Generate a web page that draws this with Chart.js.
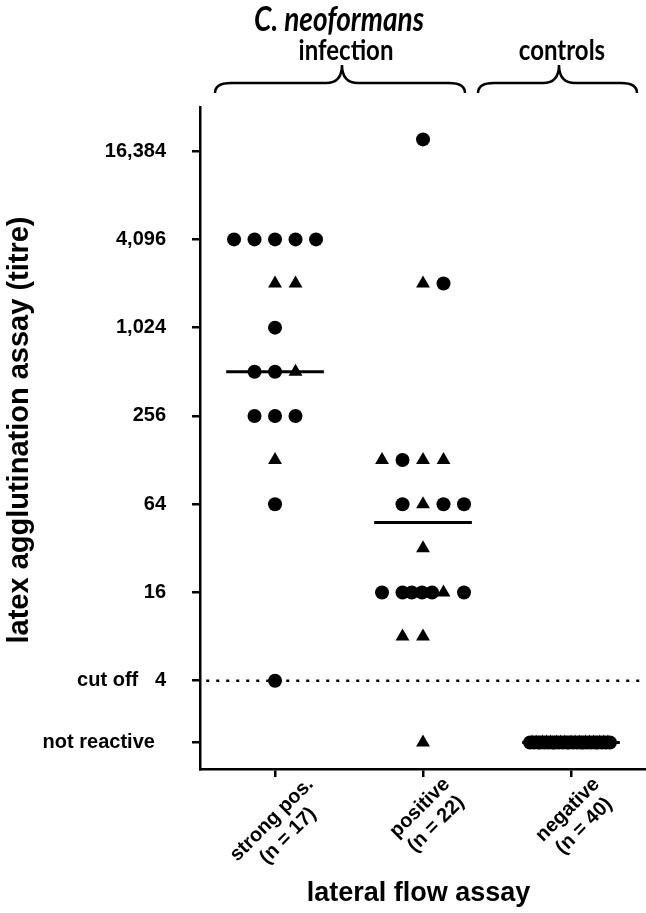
<!DOCTYPE html>
<html>
<head>
<meta charset="utf-8">
<script src="https://cdn.jsdelivr.net/npm/chart.js@4"></script>
<style>
  body { margin: 0; background: #fff; }
  canvas { display: block; }
</style>
</head>
<body>
<canvas id="stats_chart" width="646" height="913"></canvas>
<script>

// categories (x axis)
const categories = [["strong pos.", "(n = 17)"], ["positive", "(n = 22)"], ["negative", "(n = 40)"]];

// titres, 0 = not reactive
const strongTitres = [4096, 4096, 4096, 4096, 4096, 2048, 2048, 1024, 512, 512, 512, 256, 256, 256, 128, 64, 4];
const strongShapes = ["c", "c", "c", "c", "c", "t", "t", "c", "c", "c", "t", "c", "c", "c", "t", "c", "c"];
const strongSlots = [-2, -1, 0, 1, 2, 0, 1, 0, -1, 0, 1, -1, 0, 1, 0, 0, 0];

const positiveTitres = [19700, 2048, 2048, 128, 128, 128, 128, 64, 64, 64, 64, 32, 16, 16, 16, 16, 16, 16, 16, 8, 8, 0];
const positiveShapes = ["c", "t", "c", "t", "c", "t", "t", "c", "t", "c", "c", "t", "c", "c", "c", "c", "c", "t", "c", "t", "t", "t"];
const positiveSlots = [0, 0, 1, -2, -1, 0, 1, -1, 0, 1, 2, 0, -2, -1, -0.55, -0.05, 0.44, 1, 2, -1, 0, 0];

const negativeTitres = [0, 0, 0, 0, 0, 0, 0, 0, 0, 0, 0, 0, 0, 0, 0, 0, 0, 0, 0, 0,
                        0, 0, 0, 0, 0, 0, 0, 0, 0, 0, 0, 0, 0, 0, 0, 0, 0, 0, 0, 0];
const negativeShapes = ["c", "t", "c", "t", "c", "c", "t", "c", "t", "c", "t", "c", "c", "t", "c", "t", "c", "t", "c", "c",
                        "t", "c", "t", "c", "t", "c", "c", "t", "c", "t", "c", "t", "c", "c", "t", "c", "t", "c", "t", "c"];
const negativeSlots = [-2.0, -1.9, -1.8, -1.7, -1.6, -1.5, -1.4, -1.3, -1.2, -1.1, -1.0, -0.9, -0.8, -0.7, -0.6, -0.5, -0.4, -0.3, -0.2, -0.1,
                       0, 0.1, 0.2, 0.3, 0.4, 0.5, 0.6, 0.7, 0.8, 0.9, 1.0, 1.1, 1.2, 1.3, 1.4, 1.5, 1.6, 1.7, 1.8, 1.9];

const medianTitres = [512, 48, 0];
const cutOffTitre = 4;

// y axis ticks
const yTickTitres = [0, 4, 16, 64, 256, 1024, 4096, 16384];
const yTickLabels = ["not reactive  ", "cut off   4", "16", "64", "256", "1,024", "4,096", "16,384"];

const NOT_REACTIVE_POS = 0.6;   // where "not reactive" sits on the log2 axis
const SLOT = 0.1385;            // width of one dot column in x units

function ypos(titre){
    return titre > 0 ? Math.log2(titre) : NOT_REACTIVE_POS;
}

function buildPoints(titres, slots, group){
    return titres.map((t, i) => ({x: group + slots[i] * SLOT, y: ypos(t)}));
}

function styles(shapes){
    return shapes.map(s => s === "t" ? "triangle" : "circle");
}

function radii(shapes){
    return shapes.map(s => s === "t" ? 8 : 7);
}

function pointDataset(titres, shapes, slots, group){
    return {
        type: "scatter",
        data: buildPoints(titres, slots, group),
        pointStyle: styles(shapes),
        pointRadius: radii(shapes),
        pointBackgroundColor: "#000",
        pointBorderWidth: 0,
        showLine: false
    };
}

let medianData = [];
medianTitres.forEach((t, i) => {
    medianData.push({x: i - 0.33, y: ypos(t)});
    medianData.push({x: i + 0.33, y: ypos(t)});
    medianData.push({x: i + 0.34, y: null});
});

const FONT = '"Liberation Sans", Arial, sans-serif';

function drawBrace(ctx, x0, x1, xm, yEnd, yH, yPeak, r){
    ctx.beginPath();
    ctx.moveTo(x0, yEnd);
    ctx.quadraticCurveTo(x0, yH, x0 + r, yH);
    ctx.lineTo(xm - r, yH);
    ctx.quadraticCurveTo(xm, yH, xm, yPeak);
    ctx.quadraticCurveTo(xm, yH, xm + r, yH);
    ctx.lineTo(x1 - r, yH);
    ctx.quadraticCurveTo(x1, yH, x1, yEnd);
    ctx.stroke();
}

function tallText(ctx, text, x, y){
    ctx.save();
    ctx.translate(x, y);
    ctx.scale(1, 1.2);
    ctx.fillText(text, 0, 0);
    ctx.restore();
}

const annotations = {
    id: "annotations",
    beforeDraw(chart){
        const ctx = chart.ctx;
        ctx.save();
        ctx.fillStyle = "#fff";
        ctx.fillRect(0, 0, chart.width, chart.height);
        ctx.restore();
    },
    afterDraw(chart){
        const ctx = chart.ctx;
        const xs = chart.scales.x;
        const ys = chart.scales.y;

        ctx.save();
        ctx.fillStyle = "#000";
        ctx.strokeStyle = "#000";

        // rotated category labels
        ctx.font = "bold 20px " + FONT;
        ctx.textAlign = "center";
        ctx.textBaseline = "middle";
        const lh = 23;
        categories.forEach((lines, i) => {
            const w = Math.max(...lines.map(l => ctx.measureText(l).width));
            const boxH = (w + lines.length * lh) * Math.SQRT1_2;
            const cx = xs.getPixelForValue(i) + 5;
            const cy = xs.top + 4 + boxH / 2;
            ctx.save();
            ctx.translate(cx, cy);
            ctx.rotate(-Math.PI / 4);
            lines.forEach((l, j) => ctx.fillText(l, 0, (j - (lines.length - 1) / 2) * lh));
            ctx.restore();
        });

        // axis titles
        ctx.font = "bold 27px " + FONT;
        ctx.fillText("lateral flow assay", (xs.left + xs.right) / 2 - 4, 894);

        ctx.save();
        ctx.font = "bold 29px " + FONT;
        ctx.textBaseline = "alphabetic";
        ctx.translate(28, (ys.top + ys.bottom) / 2 - 8);
        ctx.rotate(-Math.PI / 2);
        ctx.fillText("latex agglutination assay (titre)", 0, 0);
        ctx.restore();

        // group headers and braces
        ctx.textBaseline = "alphabetic";
        ctx.font = "italic bold 28px Lato, sans-serif";
        tallText(ctx, "C. neoformans", 339, 31);
        ctx.font = "bold 24px Lato, sans-serif";
        tallText(ctx, "infection", 346, 60);
        tallText(ctx, "controls", 562, 60);

        ctx.lineWidth = 2.5;
        drawBrace(ctx, 215, 465, 342, 93, 83, 65, 16);
        drawBrace(ctx, 478, 637, 559, 93, 83, 65, 16);

        ctx.restore();
    }
};

const chart = new Chart(stats_chart, {
    type: "scatter",
    data: {
        datasets: [
            pointDataset(strongTitres, strongShapes, strongSlots, 0),
            pointDataset(positiveTitres, positiveShapes, positiveSlots, 1),
            pointDataset(negativeTitres, negativeShapes, negativeSlots, 2),
            {
                type: "line",
                data: medianData,
                borderColor: "#000",
                borderWidth: 3,
                pointRadius: 0,
                spanGaps: false
            },
            {
                type: "line",
                data: [{x: -0.6, y: ypos(cutOffTitre)}, {x: 2.6, y: ypos(cutOffTitre)}],
                borderColor: "#000",
                borderWidth: 2.5,
                borderDash: [3, 7],
                pointRadius: 0
            }
        ]
    },
    options: {
        responsive: false,
        animation: false,
        layout: { autoPadding: false, padding: { top: 107, right: 1, bottom: 0, left: 0 } },
        plugins: { legend: { display: false }, tooltip: { enabled: false } },
        scales: {
            x: {
                type: "linear",
                min: -0.507,
                max: 2.5,
                afterBuildTicks: scale => { scale.ticks = categories.map((c, i) => ({value: i})); },
                afterFit: scale => { scale.height = 144; },
                ticks: { display: false },
                grid: { drawOnChartArea: false, drawTicks: true, tickLength: 8, color: "#000", tickColor: "#000", lineWidth: 2.5, tickWidth: 2.5 },
                border: { display: true, color: "#000", width: 2.5 }
            },
            y: {
                type: "linear",
                min: 0,
                max: 15,
                afterBuildTicks: scale => { scale.ticks = yTickTitres.map(t => ({value: ypos(t)})); },
                afterFit: scale => { scale.width = 200; },
                ticks: {
                    autoSkip: false,
                    padding: 26,
                    color: "#000",
                    font: { family: "Liberation Sans", size: 20, weight: "bold" },
                    callback: (value, index) => yTickLabels[index]
                },
                grid: { drawOnChartArea: false, drawTicks: true, tickLength: 8, color: "#000", tickColor: "#000", lineWidth: 2.5, tickWidth: 2.5 },
                border: { display: true, color: "#000", width: 2.5 }
            }
        }
    },
    plugins: [annotations]
});

</script>
</body>
</html>
